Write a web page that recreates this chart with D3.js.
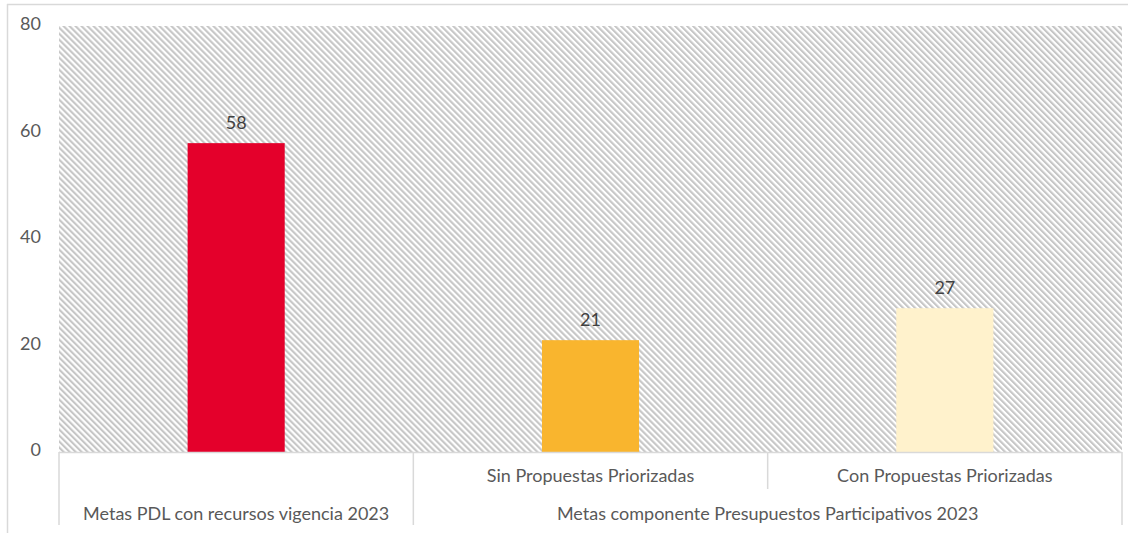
<!DOCTYPE html>
<html>
<head>
<meta charset="utf-8">
<script src="https://cdn.jsdelivr.net/npm/d3@7"></script>
<style>
  body { margin: 0; background: #fff; }
  text { font-family: Lato, "Open Sans", sans-serif; }
</style>
</head>
<body>
<div id="chart"></div>
<script>
// values
const subLabels = ["", "Sin Propuestas Priorizadas", "Con Propuestas Priorizadas"];
const groupLabels = ["Metas PDL con recursos vigencia 2023", "Metas componente Presupuestos Participativos 2023"];
const groupOf = [0, 1, 1];
const values = [58, 21, 27];
const barColors = ["#e4002b", "#f9b52e", "#fff2cc"];
const yTicks = [0, 20, 40, 60, 80];

const width = 1135, height = 533;
const plotLeft = 59, plotRight = 1122, plotTop = 26, plotBottom = 452;

const svg = d3.select("#chart")
    .append("svg")
        .attr("width", width)
        .attr("height", height);

// hatched plot background, like Excel's wide downward diagonal
const pat = svg.append("defs").append("pattern")
    .attr("id", "hatch")
    .attr("patternUnits", "userSpaceOnUse")
    .attr("width", 4.24)
    .attr("height", 4.24)
    .attr("patternTransform", "rotate(-45)");
pat.append("rect").attr("width", 4.24).attr("height", 4.24).attr("fill", "#fff");
pat.append("rect").attr("width", 2.1).attr("height", 4.24).attr("fill", "#c6c6c6");

// chart frame (only top and left visible)
svg.append("line").attr("x1", 7).attr("x2", 1128).attr("y1", 4.5).attr("y2", 4.5)
    .attr("stroke", "#d9d9d9").attr("stroke-width", 1.5);
svg.append("line").attr("x1", 7.5).attr("x2", 7.5).attr("y1", 4).attr("y2", height)
    .attr("stroke", "#d9d9d9").attr("stroke-width", 1.5);

const idx = values.map((d, i) => i);

const x = d3.scaleBand()
    .domain(idx)
    .range([plotLeft, plotRight])
    .paddingInner(0.726)
    .paddingOuter(0.363);

const y = d3.scaleLinear()
    .domain([0, 80])
    .range([plotBottom, plotTop]);

svg.append("rect")
    .attr("x", plotLeft)
    .attr("y", plotTop)
    .attr("width", plotRight - plotLeft)
    .attr("height", plotBottom - plotTop)
    .attr("fill", "url(#hatch)");

// y axis labels
svg.append("g")
    .attr("transform", `translate(${plotLeft}, 0)`)
    .call(d3.axisLeft(y).tickValues(yTicks).tickSize(0).tickPadding(18))
    .call(g => g.select(".domain").remove())
    .selectAll("text")
        .attr("dy", "0.2em")
        .attr("font-size", "18px")
        .attr("font-family", "Lato, sans-serif")
        .attr("fill", "#595959");

// bars
svg.selectAll("rect.bar")
    .data(values)
    .enter()
    .append("rect")
        .attr("class", "bar")
        .attr("x", (d, i) => x(i))
        .attr("y", d => y(d))
        .attr("width", x.bandwidth())
        .attr("height", d => y(0) - y(d))
        .attr("fill", (d, i) => barColors[i]);

// data labels
svg.selectAll("text.val")
    .data(values)
    .enter()
    .append("text")
        .attr("class", "val")
        .attr("x", (d, i) => x(i) + x.bandwidth() / 2)
        .attr("y", d => y(d) - 14)
        .attr("text-anchor", "middle")
        .attr("font-size", "18px")
        .attr("fill", "#404040")
        .text(d => d);

// category axis line
svg.append("line")
    .attr("x1", plotLeft).attr("x2", plotRight)
    .attr("y1", plotBottom + 0.5).attr("y2", plotBottom + 0.5)
    .attr("stroke", "#d9d9d9").attr("stroke-width", 1.5);

// multi-level axis: separators
const step = x.step();
const bandLeft = i => plotLeft + i * step;
const sepColor = "#d9d9d9";
idx.forEach(i => {
    const isGroupStart = i === 0 || groupOf[i] !== groupOf[i - 1];
    svg.append("line")
        .attr("x1", bandLeft(i)).attr("x2", bandLeft(i))
        .attr("y1", plotBottom).attr("y2", isGroupStart ? 525 : 489)
        .attr("stroke", sepColor).attr("stroke-width", 1.5);
});
svg.append("line")
    .attr("x1", plotRight).attr("x2", plotRight)
    .attr("y1", plotBottom).attr("y2", 525)
    .attr("stroke", sepColor).attr("stroke-width", 1.5);

// first level labels
svg.selectAll("text.sub")
    .data(subLabels)
    .enter()
    .append("text")
        .attr("class", "sub")
        .attr("x", (d, i) => x(i) + x.bandwidth() / 2)
        .attr("y", 482)
        .attr("text-anchor", "middle")
        .attr("font-size", "18px")
        .attr("fill", "#595959")
        .text(d => d);

// second level labels
svg.selectAll("text.grp")
    .data(groupLabels)
    .enter()
    .append("text")
        .attr("class", "grp")
        .attr("x", (d, g) => {
            const members = idx.filter(i => groupOf[i] === g);
            return (bandLeft(members[0]) + bandLeft(members[members.length - 1]) + step) / 2;
        })
        .attr("y", 520)
        .attr("text-anchor", "middle")
        .attr("font-size", "18px")
        .attr("fill", "#595959")
        .text(d => d);
</script>
</body>
</html>
